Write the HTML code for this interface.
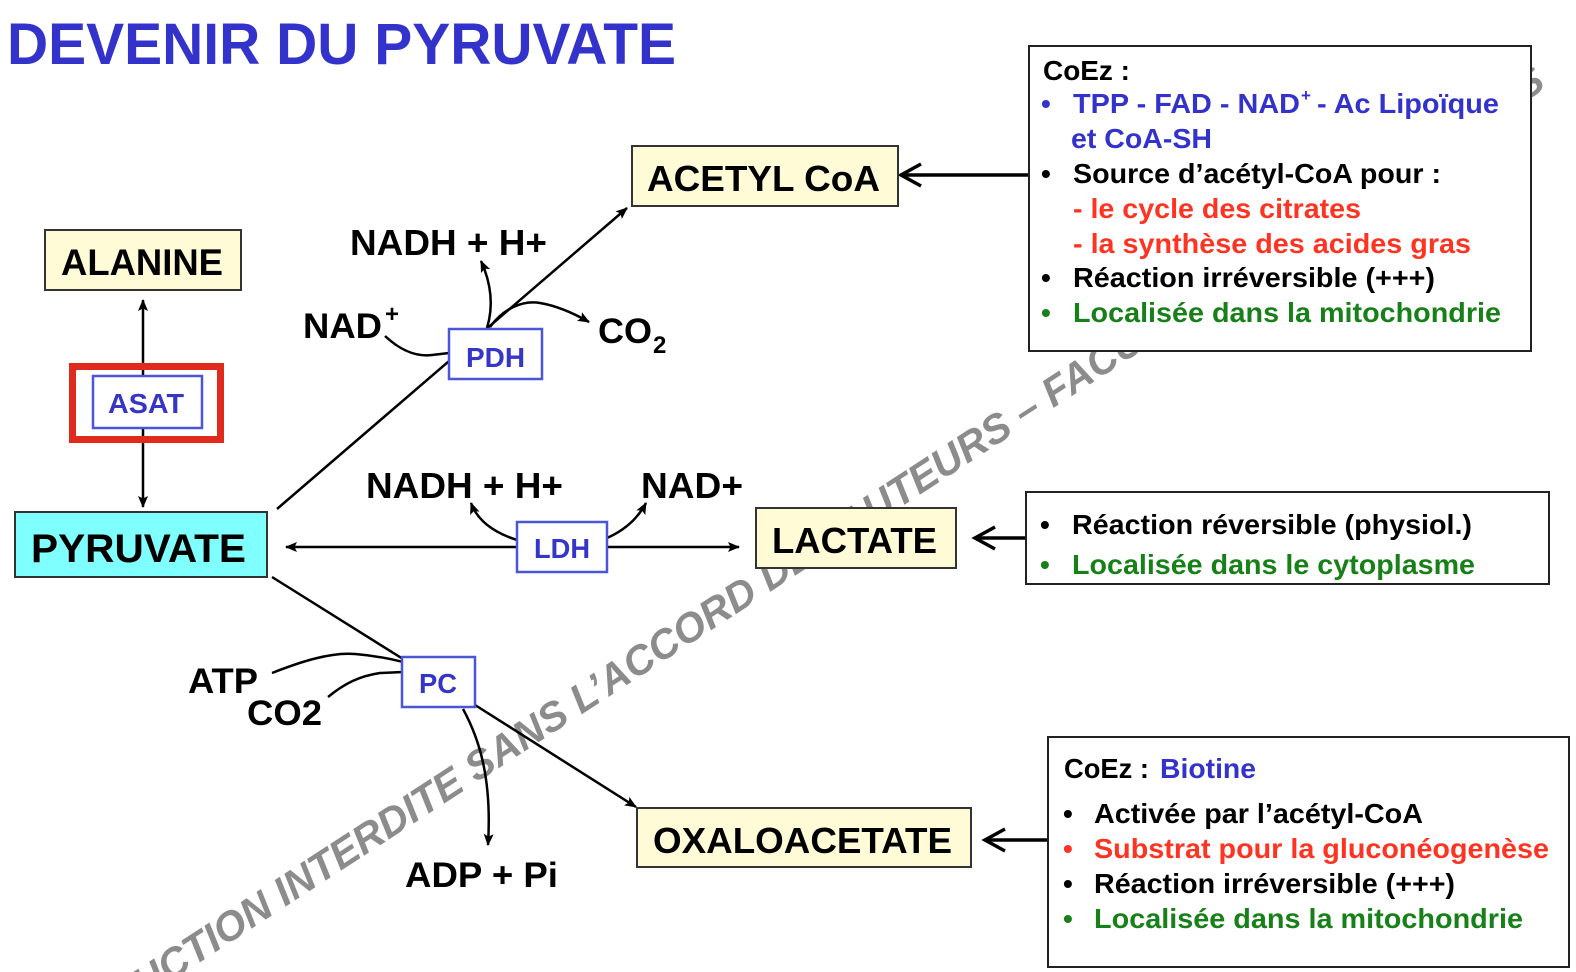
<!DOCTYPE html>
<html><head><meta charset="utf-8"><style>html,body{margin:0;padding:0;background:#fff;width:1576px;height:972px;overflow:hidden}svg{display:block;overflow:hidden}</style></head><body>
<svg width="1576" height="972" viewBox="0 0 1576 972" xmlns="http://www.w3.org/2000/svg" font-family="'Liberation Sans', Arial, sans-serif" font-weight="bold">
<defs>
<marker id="a" viewBox="0 0 12 10" refX="11" refY="5" markerWidth="12" markerHeight="10" markerUnits="userSpaceOnUse" orient="auto"><path d="M0,0 L12,5 L0,10 L2.5,5 z" fill="#000"/></marker>
<marker id="b" viewBox="0 0 12 10" refX="11" refY="5" markerWidth="12" markerHeight="10" markerUnits="userSpaceOnUse" orient="auto-start-reverse"><path d="M0,0 L12,5 L0,10 L2.5,5 z" fill="#000"/></marker>
<clipPath id="frame"><rect x="0" y="0" width="1576" height="972"/></clipPath>
</defs>
<rect width="1576" height="972" fill="#fff"/>

<!-- watermark -->
<g clip-path="url(#frame)">
<g transform="translate(285,907) rotate(-33)" fill="#8c8c8c" font-style="italic" font-size="41">
<text x="-11" y="0" text-anchor="end">REPRODUCTION</text>
<text x="0" y="0">INTERDITE SANS L’ACCORD DES AUTEURS – FACULTÉ</text>
<text x="1478" y="0">S</text>
</g>
</g>

<!-- title -->
<text x="7" y="64" font-size="58" fill="#3333cc" textLength="669" lengthAdjust="spacingAndGlyphs">DEVENIR DU PYRUVATE</text>

<!-- connectors -->
<g stroke="#000" stroke-width="2.5" fill="none">
<line x1="143" y1="400" x2="143" y2="300" marker-end="url(#a)"/>
<line x1="143" y1="400" x2="143" y2="507" marker-end="url(#a)"/>
<line x1="277" y1="509" x2="627" y2="208" marker-end="url(#a)"/>
<path d="M487,328 C494,305 491,283 481,261" marker-end="url(#a)"/>
<path d="M385,336 C400,350 415,357 432,355 L449,353"/>
<path d="M490,327 C503,309 522,300 540,303 C558,306 575,314 589,322" marker-end="url(#a)"/>
<line x1="286" y1="547" x2="739" y2="547" marker-start="url(#b)" marker-end="url(#b)"/>
<path d="M517,540 C495,533 478,522 471,503" marker-end="url(#a)"/>
<path d="M607,538 C625,530 638,518 646,503" marker-end="url(#a)"/>
<line x1="272" y1="577" x2="403" y2="659"/>
<line x1="475" y1="705" x2="636" y2="807" marker-end="url(#a)"/>
<path d="M272,673 C300,662 330,652 355,654 C380,656 395,660 403,662"/>
<path d="M328,697 C345,683 360,676 380,673 L403,672"/>
<path d="M463,709 C480,740 492,780 488,845" marker-end="url(#a)"/>
</g>

<g stroke="#000" stroke-width="3.5" fill="none">
<line x1="903" y1="175" x2="1029" y2="175"/>
<polyline points="921,164 901,175 921,186"/>
<line x1="977" y1="538" x2="1026" y2="538"/>
<polyline points="995,527 975,538 995,549"/>
<line x1="987" y1="840" x2="1048" y2="840"/>
<polyline points="1005,829 985,840 1005,851"/>
</g>

<!-- boxes -->
<g stroke="#333" stroke-width="2">
<rect x="45" y="230" width="196" height="60" fill="#fffbd6"/>
<rect x="15" y="512" width="252" height="65" fill="#80ffff"/>
<rect x="632" y="146" width="266" height="60" fill="#fffbd6"/>
<rect x="756" y="508" width="200" height="60" fill="#fffbd6"/>
<rect x="637" y="808" width="334" height="59" fill="#fffbd6"/>
</g>
<rect x="72.5" y="366.5" width="148" height="73" fill="none" stroke="#e02a1e" stroke-width="7"/>
<g stroke="#4a55d8" stroke-width="2.5" fill="#fff">
<rect x="93" y="376" width="109" height="52"/>
<rect x="449" y="329" width="93" height="50"/>
<rect x="517" y="522" width="90" height="50"/>
<rect x="402" y="657" width="73" height="50"/>
</g>
<g stroke="#222" stroke-width="2" fill="#fff">
<rect x="1029" y="46" width="502" height="305"/>
<rect x="1026" y="492" width="523" height="92"/>
<rect x="1048" y="737" width="521" height="230"/>
</g>

<!-- node labels -->
<g fill="#000">
<text x="61" y="275" font-size="37" textLength="162" lengthAdjust="spacingAndGlyphs">ALANINE</text>
<text x="31" y="562" font-size="40" textLength="215" lengthAdjust="spacingAndGlyphs">PYRUVATE</text>
<text x="647" y="191" font-size="36" textLength="233" lengthAdjust="spacingAndGlyphs">ACETYL CoA</text>
<text x="772" y="553" font-size="36" textLength="165" lengthAdjust="spacingAndGlyphs">LACTATE</text>
<text x="653" y="853" font-size="36" textLength="299" lengthAdjust="spacingAndGlyphs">OXALOACETATE</text>
<text x="350" y="255" font-size="36" textLength="197" lengthAdjust="spacingAndGlyphs">NADH + H+</text>
<text x="303" y="338" font-size="35" textLength="79" lengthAdjust="spacingAndGlyphs">NAD</text>
<text x="385" y="322" font-size="24">+</text>
<text x="598" y="343" font-size="35" textLength="54" lengthAdjust="spacingAndGlyphs">CO</text>
<text x="653" y="353" font-size="24">2</text>
<text x="366" y="498" font-size="36" textLength="197" lengthAdjust="spacingAndGlyphs">NADH + H+</text>
<text x="641" y="498" font-size="36" textLength="102" lengthAdjust="spacingAndGlyphs">NAD+</text>
<text x="188" y="693" font-size="35" textLength="70" lengthAdjust="spacingAndGlyphs">ATP</text>
<text x="247" y="725" font-size="35" textLength="75" lengthAdjust="spacingAndGlyphs">CO2</text>
<text x="405" y="887" font-size="35" textLength="153" lengthAdjust="spacingAndGlyphs">ADP + Pi</text>
</g>
<g fill="#3535c8" font-size="28">
<text x="108" y="413" textLength="76" lengthAdjust="spacingAndGlyphs">ASAT</text>
<text x="466" y="367" textLength="59" lengthAdjust="spacingAndGlyphs">PDH</text>
<text x="534" y="558" textLength="56" lengthAdjust="spacingAndGlyphs">LDH</text>
<text x="419" y="693" textLength="38" lengthAdjust="spacingAndGlyphs">PC</text>
</g>

<!-- info box 1 -->
<g font-size="28">
<text x="1043" y="80" fill="#000" textLength="87" lengthAdjust="spacingAndGlyphs">CoEz :</text>
<text x="1041" y="113" fill="#3333cc">•</text>
<text x="1073" y="113" fill="#3333cc" textLength="227" lengthAdjust="spacingAndGlyphs">TPP - FAD - NAD</text>
<text x="1301" y="101" fill="#3333cc" font-size="17">+</text>
<text x="1317" y="113" fill="#3333cc" textLength="182" lengthAdjust="spacingAndGlyphs">- Ac Lipoïque</text>
<text x="1071" y="148" fill="#3333cc" textLength="141" lengthAdjust="spacingAndGlyphs">et CoA-SH</text>
<text x="1041" y="183" fill="#000">•</text>
<text x="1073" y="183" fill="#000" textLength="368" lengthAdjust="spacingAndGlyphs">Source d’acétyl-CoA pour :</text>
<text x="1073" y="218" fill="#ff3322" textLength="288" lengthAdjust="spacingAndGlyphs">- le cycle des citrates</text>
<text x="1073" y="253" fill="#ff3322" textLength="398" lengthAdjust="spacingAndGlyphs">- la synthèse des acides gras</text>
<text x="1041" y="287" fill="#000">•</text>
<text x="1073" y="287" fill="#000" textLength="362" lengthAdjust="spacingAndGlyphs">Réaction irréversible (+++)</text>
<text x="1041" y="322" fill="#188018">•</text>
<text x="1073" y="322" fill="#188018" textLength="428" lengthAdjust="spacingAndGlyphs">Localisée dans la mitochondrie</text>
</g>

<!-- info box 2 -->
<g font-size="28">
<text x="1040" y="534" fill="#000">•</text>
<text x="1072" y="534" fill="#000" textLength="400" lengthAdjust="spacingAndGlyphs">Réaction réversible (physiol.)</text>
<text x="1040" y="574" fill="#188018">•</text>
<text x="1072" y="574" fill="#188018" textLength="403" lengthAdjust="spacingAndGlyphs">Localisée dans le cytoplasme</text>
</g>

<!-- info box 3 -->
<g font-size="28">
<text x="1064" y="778" fill="#000" textLength="85" lengthAdjust="spacingAndGlyphs">CoEz :</text>
<text x="1160" y="778" fill="#3333cc" textLength="96" lengthAdjust="spacingAndGlyphs">Biotine</text>
<text x="1063" y="823" fill="#000">•</text>
<text x="1094" y="823" fill="#000" textLength="329" lengthAdjust="spacingAndGlyphs">Activée par l’acétyl-CoA</text>
<text x="1063" y="858" fill="#ff3322">•</text>
<text x="1094" y="858" fill="#ff3322" textLength="455" lengthAdjust="spacingAndGlyphs">Substrat pour la gluconéogenèse</text>
<text x="1063" y="893" fill="#000">•</text>
<text x="1094" y="893" fill="#000" textLength="361" lengthAdjust="spacingAndGlyphs">Réaction irréversible (+++)</text>
<text x="1063" y="928" fill="#188018">•</text>
<text x="1094" y="928" fill="#188018" textLength="429" lengthAdjust="spacingAndGlyphs">Localisée dans la mitochondrie</text>
</g>
</svg>
</body></html>
